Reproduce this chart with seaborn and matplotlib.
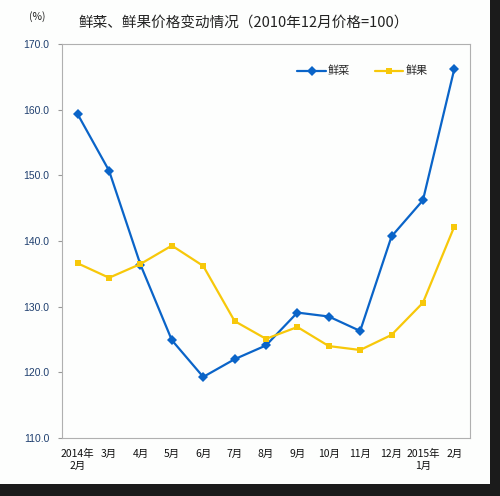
import numpy as np
import pandas as pd
import matplotlib
matplotlib.use("Agg")
import matplotlib.pyplot as plt
import seaborn as sns
from matplotlib.patches import Rectangle

months = ["2014年\n2月", "3月", "4月", "5月", "6月", "7月", "8月", "9月",
          "10月", "11月", "12月", "2015年\n1月", "2月"]
veg = [159.3, 150.7, 136.4, 124.9, 119.3, 122.0, 124.1, 129.1, 128.5, 126.3, 140.7, 146.2, 166.2]
fruit = [136.6, 134.4, 136.5, 139.3, 136.2, 127.8, 125.1, 126.9, 124.0, 123.4, 125.7, 130.6, 142.2]
yticks = [110, 120, 130, 140, 150, 160, 170]

df = pd.DataFrame({
    "idx": list(range(len(months))) * 2,
    "value": veg + fruit,
    "kind": ["鲜菜"] * len(veg) + ["鲜果"] * len(fruit),
})

sns.set_style("white")
plt.rcParams['font.family'] = ['Noto Sans CJK SC', 'DejaVu Sans']

fig = plt.figure(figsize=(5, 4.96), dpi=100)
fig.patch.set_facecolor("#1b1b1b")
fig.add_artist(Rectangle((0, 12/496), 490/500, 1 - 12/496, transform=fig.transFigure,
                         facecolor="#fdfefd", edgecolor="none", zorder=-10))
ax = fig.add_axes([62/500, 58/496, 408/500, 394/496])
ax.set_facecolor("#fdfefd")

pal = {"鲜菜": "#0a64c8", "鲜果": "#f7c80a"}
sns.lineplot(data=df, x="idx", y="value", hue="kind", style="kind",
             markers={"鲜菜": "D", "鲜果": "s"}, dashes=False, palette=pal,
             linewidth=1.6, markersize=5, markeredgewidth=0, ax=ax)

ax.set_xlim(-0.5, 12.5)
ax.set_ylim(110, 170)
ax.set_yticks(yticks)
ax.set_yticklabels([f"{v:.1f}" for v in yticks], color="#1f3f6f", fontsize=7.5,
                   family=['Liberation Sans', 'DejaVu Sans'])
ax.set_xticks(range(len(months)))
ax.set_xticklabels(months, fontsize=7.5, color="#111111")
ax.tick_params(axis="y", length=3, color="#999999", left=True, pad=6)
ax.tick_params(axis="x", length=0, pad=8)
ax.set_xlabel("")
ax.set_ylabel("")
for s in ax.spines.values():
    s.set_color("#b0b0b0")
    s.set_linewidth(0.8)
ax.spines["left"].set_linestyle((0, (1, 1)))

leg = ax.legend(loc="upper right", bbox_to_anchor=(0.92, 0.97), ncol=2, frameon=False,
                fontsize=8, handlelength=2.6, columnspacing=2.2, handletextpad=0.15)
for h in leg.legend_handles:
    h.set_markersize(5)

fig.text(244/500, 1 - 24/496, "鲜菜、鲜果价格变动情况（2010年12月价格=100）",
         ha="center", va="center", fontsize=10.5, color="#222222")
fig.text(37/500, 1 - 17/496, "(%)", ha="center", va="center", fontsize=7.5, color="#222222")

fig.savefig("out.png", dpi=100, facecolor=fig.get_facecolor())
